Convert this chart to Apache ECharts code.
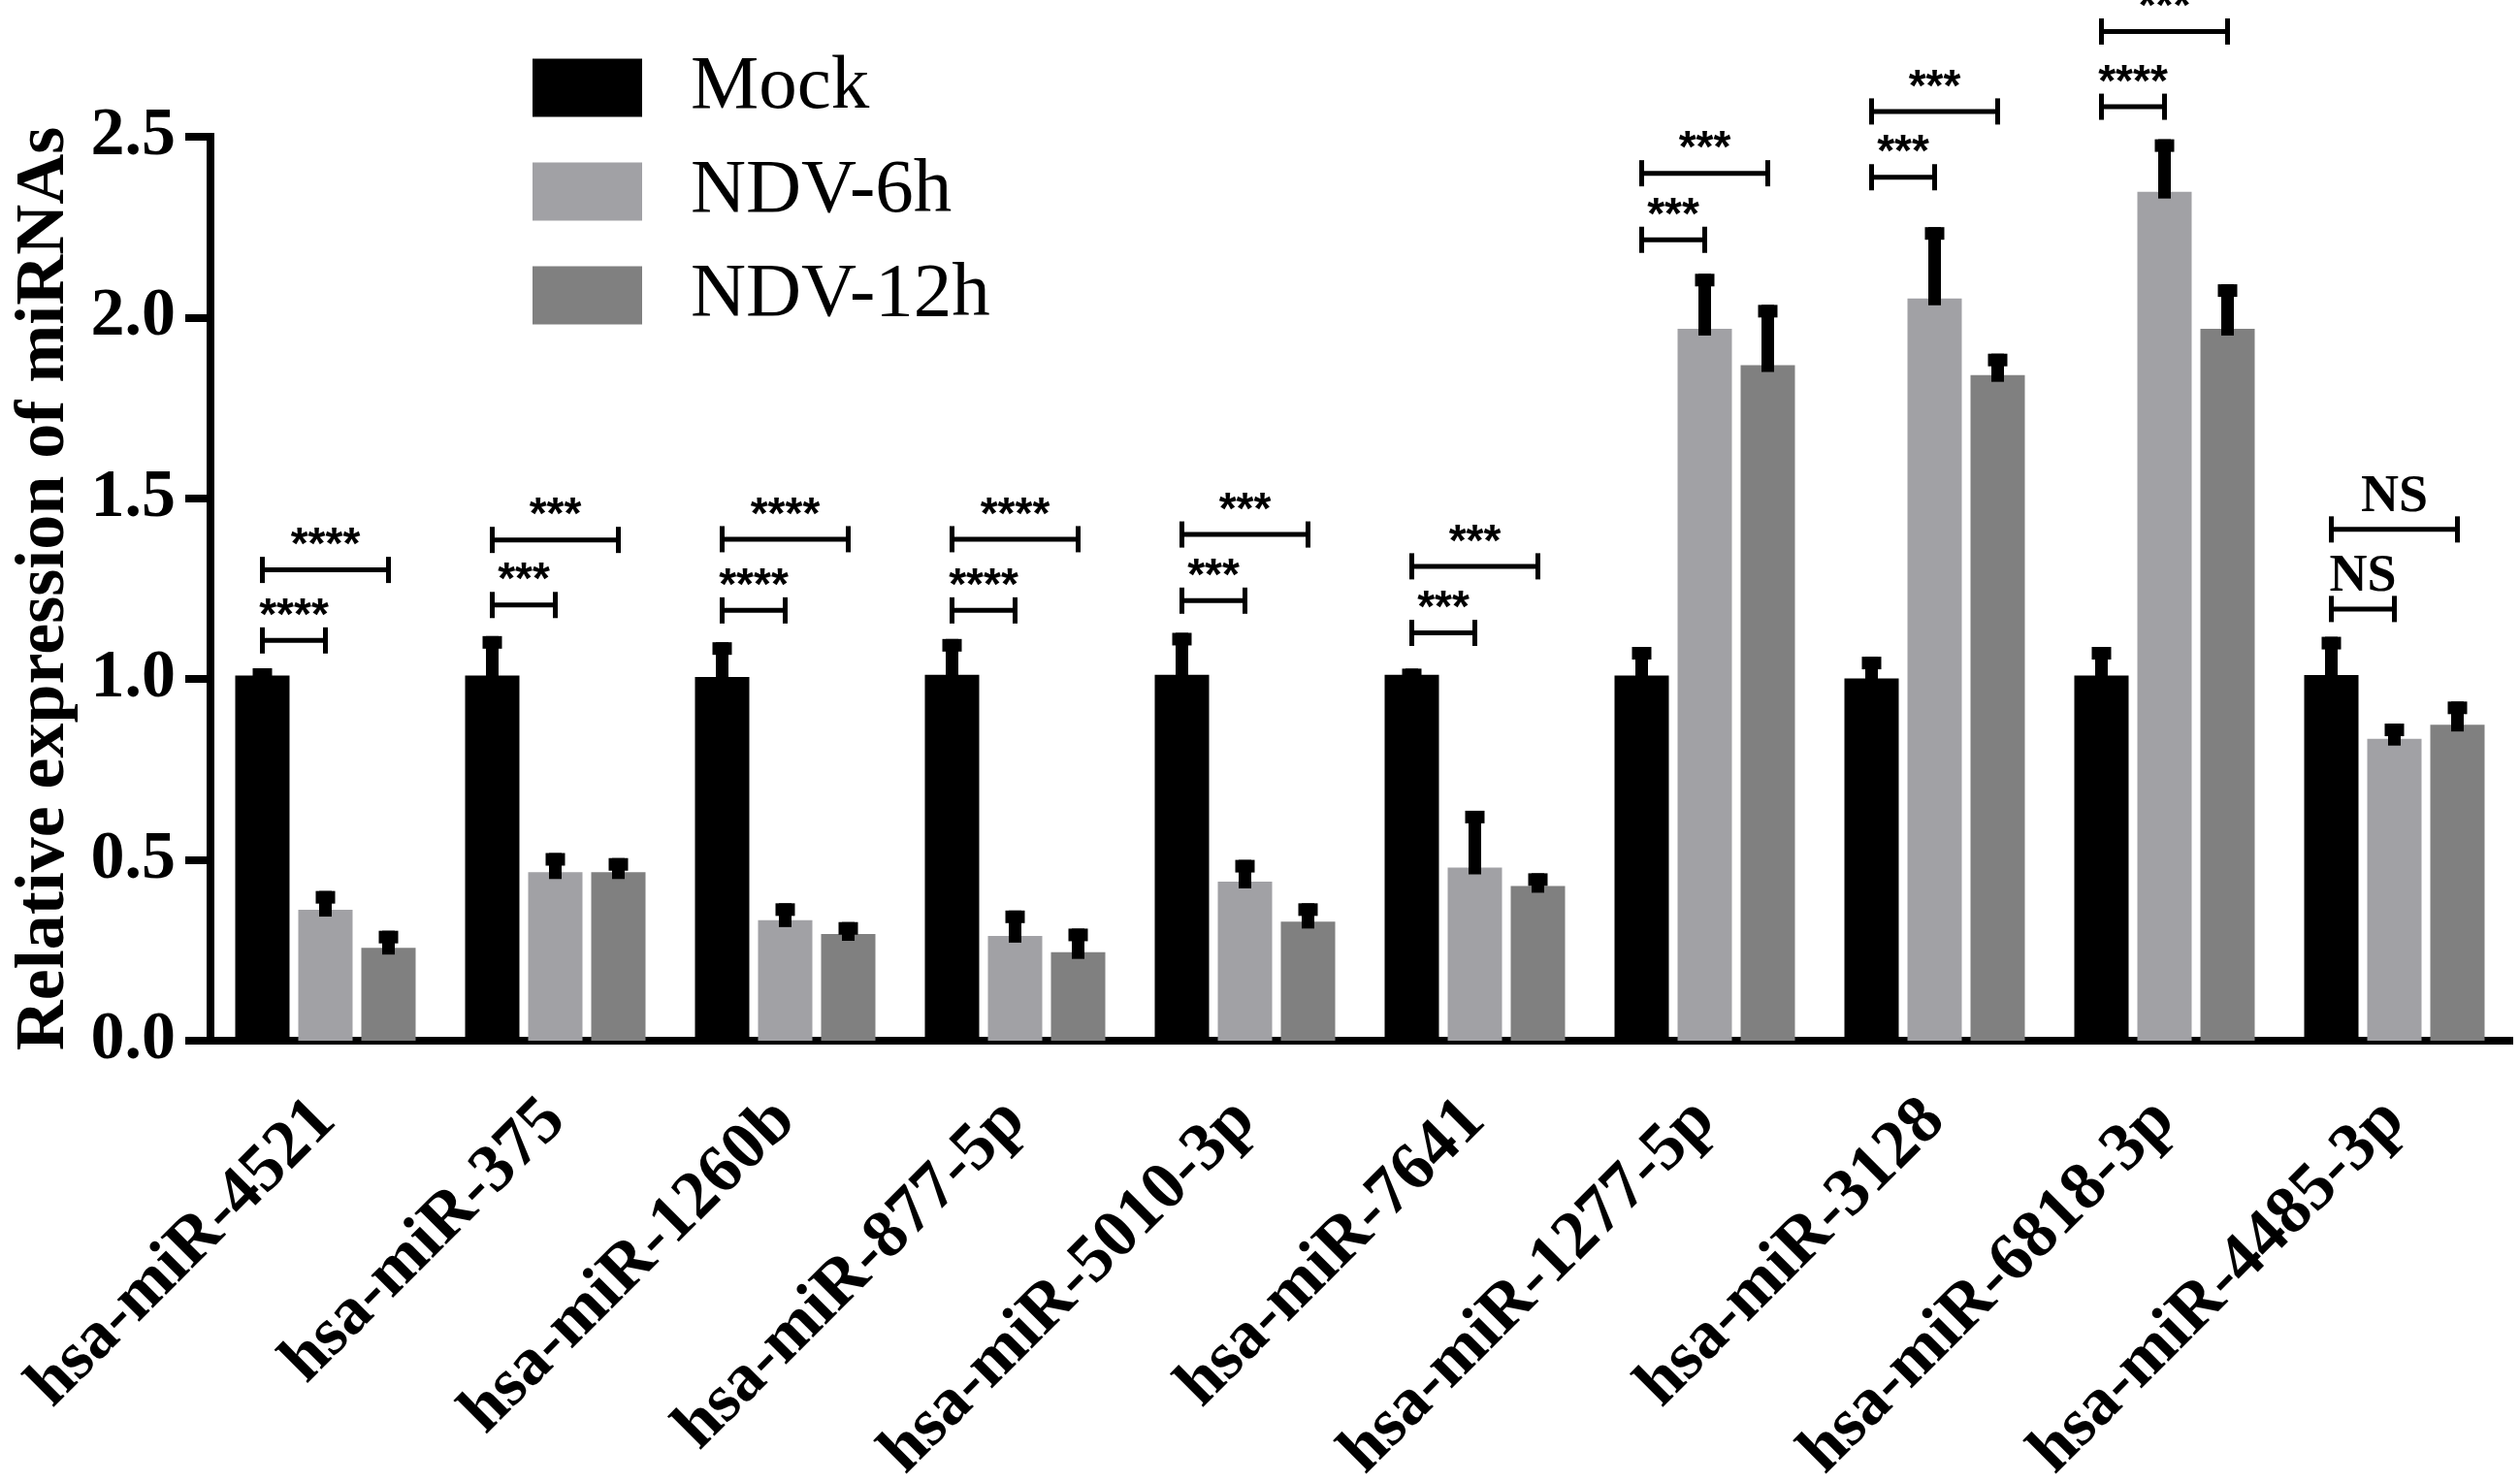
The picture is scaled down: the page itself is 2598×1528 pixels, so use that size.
<!DOCTYPE html>
<html>
<head>
<meta charset="utf-8">
<script src="https://cdn.jsdelivr.net/npm/echarts@6/dist/echarts.min.js"></script>
<style>
  html, body { margin: 0; padding: 0; background: #fff; }
  #main { width: 2598px; height: 1528px; }
</style>
</head>
<body>
<div id="main"></div>
<script>
// miRNA names on the x axis
var categories = ['hsa-miR-4521', 'hsa-miR-375', 'hsa-miR-1260b', 'hsa-miR-877-5p', 'hsa-miR-5010-3p',
  'hsa-miR-7641', 'hsa-miR-1277-5p', 'hsa-miR-3128', 'hsa-miR-6818-3p', 'hsa-miR-4485-3p'];
var groupNames = ['Mock', 'NDV-6h', 'NDV-12h'];
var groupColors = ['#000000', '#a1a1a5', '#808080'];

// bar heights (mean) and top of the error bar (mean + SD)
var mockMean = [1.01, 1.01, 1.006, 1.012, 1.012, 1.012, 1.01, 1.002, 1.01, 1.011];
var mockTop  = [1.03, 1.119, 1.102, 1.111, 1.128, 1.029, 1.089, 1.062, 1.089, 1.117];
var h6Mean   = [0.362, 0.466, 0.333, 0.29, 0.44, 0.479, 1.969, 2.053, 2.348, 0.835];
var h6Top    = [0.414, 0.519, 0.38, 0.36, 0.50, 0.636, 2.121, 2.25, 2.493, 0.877];
var h12Mean  = [0.257, 0.466, 0.295, 0.245, 0.329, 0.428, 1.868, 1.841, 1.969, 0.874];
var h12Top   = [0.304, 0.505, 0.328, 0.31, 0.38, 0.463, 2.035, 1.9, 2.092, 0.938];

var yTicks = [0, 0.5, 1.0, 1.5, 2.0, 2.5];

// significance brackets: [category, from group, to group, height, label]
var brackets = [
  [0, 0, 1, 1.107, '****'], [0, 0, 2, 1.302, '****'],
  [1, 0, 1, 1.205, '***'],  [1, 0, 2, 1.385, '***'],
  [2, 0, 1, 1.19, '****'],  [2, 0, 2, 1.387, '****'],
  [3, 0, 1, 1.19, '****'],  [3, 0, 2, 1.387, '****'],
  [4, 0, 1, 1.217, '***'],  [4, 0, 2, 1.40, '***'],
  [5, 0, 1, 1.128, '***'],  [5, 0, 2, 1.312, '***'],
  [6, 0, 1, 2.215, '***'],  [6, 0, 2, 2.399, '***'],
  [7, 0, 1, 2.388, '***'],  [7, 0, 2, 2.57, '***'],
  [8, 0, 1, 2.583, '****'], [8, 0, 2, 2.791, '***'],
  [9, 0, 1, 1.194, 'NS'],   [9, 0, 2, 1.414, 'NS']
];

var means = [mockMean, h6Mean, h12Mean];
var tops = [mockTop, h6Top, h12Top];

var BAR_W = 56;
var BAR_GAP = 9;
var STEP = BAR_W + BAR_GAP;
var SERIF = '"Liberation Serif", "Times New Roman", serif';
var SANS = '"Liberation Sans", Arial, sans-serif';

var myChart = echarts.init(document.getElementById('main'));

var series = [];
groupNames.forEach(function (name, k) {
  series.push({
    name: name,
    type: 'bar',
    barWidth: BAR_W,
    barGap: (BAR_GAP / BAR_W * 100) + '%',
    itemStyle: { color: groupColors[k] },
    data: means[k]
  });
});

// error bars drawn on top of each group's bars
groupNames.forEach(function (name, k) {
  series.push({
    type: 'custom',
    z: 5,
    silent: true,
    clip: false,
    data: categories.map(function (c, i) { return [i, means[k][i], tops[k][i]]; }),
    encode: { x: 0, y: [1, 2] },
    renderItem: function (params, api) {
      var i = api.value(0);
      var base = api.coord([i, api.value(1)]);
      var top = api.coord([i, api.value(2)]);
      var x = base[0] + (k - 1) * STEP;
      return {
        type: 'group',
        children: [
          { type: 'rect', shape: { x: x - 6.5, y: top[1], width: 13, height: base[1] + 7 - top[1] }, style: { fill: '#000' } },
          { type: 'rect', shape: { x: x - 10, y: top[1], width: 20, height: 13 }, style: { fill: '#000' } }
        ]
      };
    }
  });
});

// brackets with stars
series.push({
  type: 'custom',
  z: 6,
  silent: true,
  clip: false,
  data: brackets.map(function (b) { return [b[0], b[1], b[2], b[3]]; }),
  encode: { x: 0, y: 3 },
  renderItem: function (params, api) {
    var p = api.coord([api.value(0), api.value(3)]);
    var xa = p[0] + (api.value(1) - 1) * STEP;
    var xb = p[0] + (api.value(2) - 1) * STEP;
    var y = p[1];
    var label = brackets[params.dataIndex][4];
    var isNS = label === 'NS';
    var ls = { stroke: '#000', lineWidth: 5 };
    return {
      type: 'group',
      children: [
        { type: 'line', shape: { x1: xa, y1: y, x2: xb, y2: y }, style: ls },
        { type: 'line', shape: { x1: xa, y1: y - 13.5, x2: xa, y2: y + 13.5 }, style: ls },
        { type: 'line', shape: { x1: xb, y1: y - 13.5, x2: xb, y2: y + 13.5 }, style: ls },
        {
          type: 'text',
          style: {
            text: label,
            x: (xa + xb) / 2,
            y: isNS ? y - 33 : y - 24,
            textAlign: 'center',
            textVerticalAlign: 'middle',
            fill: '#000',
            font: isNS ? 'bold 54px ' + SERIF : 'bold 46px ' + SANS
          }
        }
      ]
    };
  }
});

myChart.setOption({
  animation: false,
  backgroundColor: '#fff',
  legend: {
    orient: 'vertical',
    left: 544,
    top: 46,
    icon: 'rect',
    itemWidth: 113,
    itemHeight: 60,
    itemGap: 28,
    selectedMode: false,
    data: groupNames,
    textStyle: {
      fontFamily: SERIF,
      fontSize: 79,
      color: '#000',
      padding: [0, 0, 0, 45]
    }
  },
  grid: {
    left: 217,
    right: 11,
    top: 141,
    bottom: 455,
    containLabel: false,
    outerBoundsMode: 'none'
  },
  xAxis: {
    type: 'category',
    data: categories,
    axisLine: { lineStyle: { color: '#000', width: 8, cap: 'square' } },
    axisTick: { alignWithLabel: true, length: 26, lineStyle: { color: '#000', width: 8 } },
    axisLabel: {
      interval: 0,
      rotate: 45,
      margin: 72,
      padding: [40, 0, 0, 0],
      color: '#000',
      fontFamily: SERIF,
      fontWeight: 'bold',
      fontSize: 70
    }
  },
  yAxis: {
    type: 'value',
    min: yTicks[0],
    max: yTicks[yTicks.length - 1],
    interval: 0.5,
    name: 'Relative expression of miRNAs',
    nameLocation: 'middle',
    nameGap: 135,
    nameTextStyle: { fontFamily: SERIF, fontWeight: 'bold', fontSize: 72, color: '#000' },
    splitLine: { show: false },
    axisLine: { show: true, lineStyle: { color: '#000', width: 8, cap: 'square' } },
    axisTick: { show: true, length: 26, lineStyle: { color: '#000', width: 8 } },
    axisLabel: {
      margin: 36,
      color: '#000',
      fontFamily: SERIF,
      fontWeight: 'bold',
      fontSize: 70,
      formatter: function (v) { return v.toFixed(1); }
    }
  },
  series: series
});
</script>
</body>
</html>
